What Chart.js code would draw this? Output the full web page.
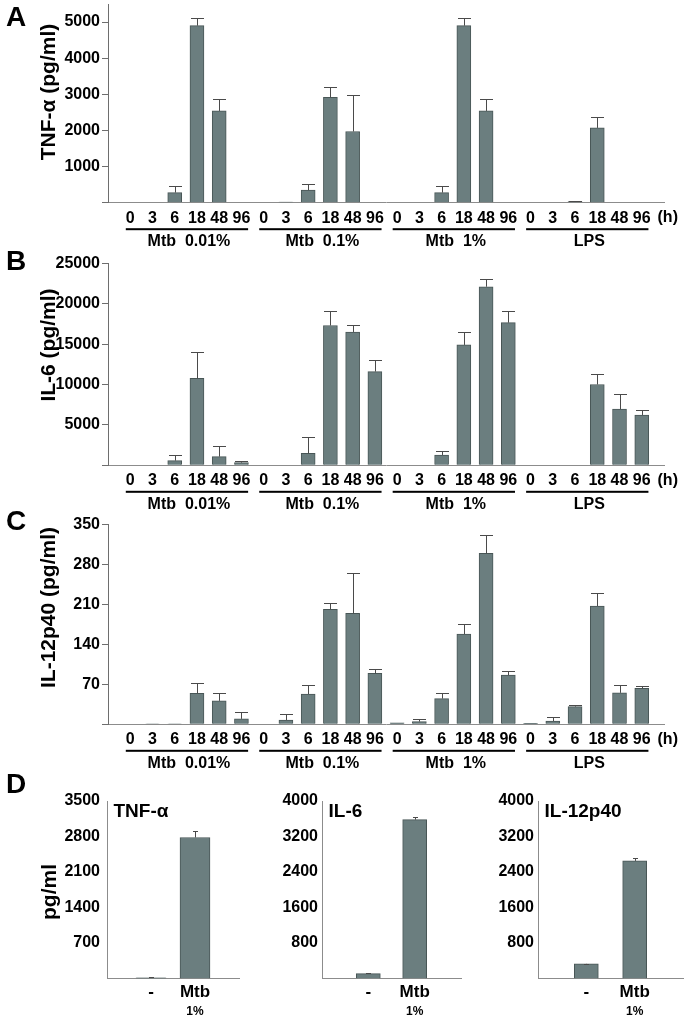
<!DOCTYPE html>
<html>
<head>
<meta charset="utf-8">
<script src="https://cdn.jsdelivr.net/npm/chart.js@4.4.1/dist/chart.umd.min.js"></script>
<style>
  html, body { margin: 0; padding: 0; background: #fff; }
  body { width: 685px; height: 1020px; position: relative; overflow: hidden; }
  canvas { position: absolute; }
</style>
</head>
<body>
<canvas id="chartA" width="685" height="258" style="left:0;top:0"></canvas>
<canvas id="chartB" width="685" height="275" style="left:0;top:245px"></canvas>
<canvas id="chartC" width="685" height="272" style="left:0;top:505px"></canvas>
<canvas id="chartD1" width="240" height="255" style="left:0;top:765px"></canvas>
<canvas id="chartD2" width="225" height="255" style="left:240px;top:765px"></canvas>
<canvas id="chartD3" width="220" height="255" style="left:465px;top:765px"></canvas>
<script>
const HOURS = ['0', '3', '6', '18', '48', '96'];
const GROUPS = ['Mtb  0.01%', 'Mtb  0.1%', 'Mtb  1%', 'LPS'];

// A — TNF-α (pg/ml), six time points per group
const tnfMean = [0, 0, 280, 4900, 2540, 0,   0, 15, 350, 2920, 1970, 0,   0, 0, 280, 4900, 2540, 0,   0, 0, 30, 2070, 0, 0];
const tnfErr  = [0, 0, 170, 210, 320, 0,     0, 0, 160, 280, 1010, 0,     0, 0, 170, 210, 320, 0,     0, 0, 30, 290, 0, 0];

// B — IL-6 (pg/ml)
const il6Mean = [0, 0, 580, 10750, 1070, 330,   0, 0, 1490, 17300, 16500, 11600,   0, 0, 1280, 14900, 22100, 17650,   0, 0, 0, 10000, 6950, 6230];
const il6Err  = [0, 0, 660, 3230, 1320, 170,    0, 0, 1980, 1830, 830, 1450,       0, 0, 450, 1600, 950, 1400,        0, 0, 0, 1300, 1850, 650];

// C — IL-12p40 (pg/ml)
const il12Mean = [0, 0.6, 0.6, 54, 41, 9.5,   0, 7.5, 53, 201, 194, 89,   2.5, 4.7, 45, 158, 299, 86,   1.5, 5.8, 31, 207, 55, 63];
const il12Err  = [0, 0, 0, 18, 13, 11.5,      0, 10, 15, 12, 70, 7,       0, 4, 10, 18, 33, 8,          0, 7.6, 3, 23, 13, 4];

// D — unstimulated vs Mtb 1%
const D_LABELS = ['-', 'Mtb'];
const tnfD  = [15, 2780];
const tnfDErr = [5, 130];
const il6D  = [110, 3580];
const il6DErr = [10, 70];
const il12D = [330, 2650];
const il12DErr = [8, 60];

const BAR_FILL = '#6b7e7f';
const BAR_EDGE = '#485656';
const FONT = '"Liberation Sans", Arial, sans-serif';

Chart.defaults.font.family = FONT;
Chart.defaults.color = '#000';

// one empty slot at each end of the x axis
const timeLabels = ['', ...GROUPS.flatMap(() => HOURS), ''];
const pad = arr => [null, ...arr, null];

function tickValues(max, step) {
  const out = [];
  for (let v = 0; v <= max + 1e-9; v += step) out.push({ value: v });
  return out;
}

// ── plugins ───────────────────────────────────────────────────────────
const errorBars = {
  id: 'errorBars',
  afterDatasetsDraw(chart, args, opts) {
    const { ctx, scales: { y } } = chart;
    const ds = chart.data.datasets[0];
    const meta = chart.getDatasetMeta(0);
    ctx.save();
    ctx.strokeStyle = '#4a4a4a';
    ctx.lineWidth = 1;
    meta.data.forEach((bar, i) => {
      const v = ds.data[i], e = ds.errors[i];
      if (v == null || !e) return;
      const top = Math.round(y.getPixelForValue(v + e)) + 0.5;
      const x = Math.round(bar.x) + 0.5;
      const half = opts.cap === 'bar' ? bar.width / 2 - 0.5 : opts.cap;
      ctx.beginPath();
      ctx.moveTo(x, bar.y);
      ctx.lineTo(x, top);
      ctx.moveTo(x - half, top);
      ctx.lineTo(x + half, top);
      ctx.stroke();
    });
    ctx.restore();
  }
};

const panelText = {
  id: 'panelText',
  afterDraw(chart, args, opts) {
    const { ctx, chartArea } = chart;
    ctx.save();
    ctx.fillStyle = '#000';
    if (opts.letter) {
      ctx.font = 'bold 28px ' + FONT;
      ctx.textAlign = 'center';
      ctx.textBaseline = 'middle';
      ctx.fillText(opts.letter, opts.letterX, opts.letterY);
    }
    if (opts.yTitle) {
      ctx.save();
      ctx.translate(opts.titleX, opts.titleY);
      ctx.rotate(-Math.PI / 2);
      ctx.font = 'bold 21px ' + FONT;
      ctx.textAlign = 'center';
      ctx.textBaseline = 'middle';
      ctx.fillText(opts.yTitle, 0, 0);
      ctx.restore();
    }
    if (opts.groups) {
      const x = chart.scales.x;
      const base = chartArea.bottom;
      const slot = x.getPixelForValue(2) - x.getPixelForValue(1);
      ctx.font = 'bold 16px ' + FONT;
      ctx.textAlign = 'center';
      ctx.textBaseline = 'middle';
      GROUPS.forEach((name, gi) => {
        const first = 1 + gi * 6;
        const x0 = x.getPixelForValue(first) - 0.2 * slot;
        const x1 = x.getPixelForValue(first + 5) + 0.3 * slot;
        ctx.fillRect(x0, base + 25.5, x1 - x0, 2);
        ctx.fillText(name, (x0 + x1) / 2 + 2, base + 39);
      });
      ctx.fillText('(h)', x.getPixelForValue(24) + 26, base + 15);
    }
    if (opts.inner) {
      ctx.font = 'bold 19px ' + FONT;
      ctx.textAlign = 'left';
      ctx.textBaseline = 'middle';
      ctx.fillText(opts.inner, chartArea.left + 6.5, chartArea.top + 11);
      const x = chart.scales.x;
      ctx.font = 'bold 12px ' + FONT;
      ctx.textAlign = 'center';
      ctx.fillText('1%', x.getPixelForValue(2), chartArea.bottom + 33);
    }
    ctx.restore();
  }
};

// ── panels A–C ────────────────────────────────────────────────────────
function makeTimeChart(id, cfg) {
  return new Chart(document.getElementById(id), {
    type: 'bar',
    data: {
      labels: timeLabels,
      datasets: [{
        data: pad(cfg.mean),
        errors: pad(cfg.err),
        backgroundColor: BAR_FILL,
        borderColor: BAR_EDGE,
        borderWidth: 1,
        barThickness: 14
      }]
    },
    options: {
      responsive: false,
      animation: false,
      layout: { padding: { top: cfg.top, right: 21, left: 0, bottom: 0 } },
      plugins: {
        legend: { display: false },
        tooltip: { enabled: false },
        errorBars: { cap: 'bar' },
        panelText: {
          letter: cfg.letter, letterX: 16, letterY: cfg.letterY,
          yTitle: cfg.yTitle, titleX: 49, titleY: cfg.titleY,
          groups: true
        }
      },
      scales: {
        x: {
          offset: false,
          grid: { display: false, drawTicks: false },
          border: { color: '#8c8c8c', width: 1 },
          ticks: { autoSkip: false, maxRotation: 0, minRotation: 0, padding: 6,
                   font: { size: 16, weight: 'bold' }, color: '#000' },
          afterFit(s) { s.height = cfg.height - cfg.bottom; s.paddingLeft = 0; s.paddingRight = 0; }
        },
        y: {
          min: 0,
          max: cfg.max,
          afterBuildTicks(s) { s.ticks = tickValues(cfg.max, cfg.step); },
          ticks: { padding: 2, font: { size: 16, weight: 'bold' }, color: '#000',
                   callback: v => (v === 0 ? '' : String(v)) },
          grid: { drawOnChartArea: false, tickLength: 6, color: '#6e6e6e' },
          border: { color: '#6e6e6e', width: 1 },
          afterFit(s) { s.width = 108; s.paddingTop = 0; s.paddingBottom = 0; }
        }
      }
    },
    plugins: [errorBars, panelText]
  });
}

makeTimeChart('chartA', { mean: tnfMean, err: tnfErr, max: 5500, step: 1000,
  top: 4, bottom: 202.7, height: 258, letter: 'A', letterY: 18, yTitle: 'TNF-α (pg/ml)', titleY: 92 });
makeTimeChart('chartB', { mean: il6Mean, err: il6Err, max: 25000, step: 5000,
  top: 18.3, bottom: 220.3, height: 275, letter: 'B', letterY: 17, yTitle: 'IL-6 (pg/ml)', titleY: 100 });
makeTimeChart('chartC', { mean: il12Mean, err: il12Err, max: 350, step: 70,
  top: 19.3, bottom: 219.3, height: 272, letter: 'C', letterY: 17, yTitle: 'IL-12p40 (pg/ml)', titleY: 102.5 });

// ── panel D ───────────────────────────────────────────────────────────
function makeDChart(id, cfg) {
  return new Chart(document.getElementById(id), {
    type: 'bar',
    data: {
      labels: ['', ...D_LABELS, ''],
      datasets: [{
        data: pad(cfg.mean),
        errors: pad(cfg.err),
        backgroundColor: BAR_FILL,
        borderColor: BAR_EDGE,
        borderWidth: 1,
        barThickness: cfg.barW
      }]
    },
    options: {
      responsive: false,
      animation: false,
      layout: { padding: { top: 36, right: cfg.right, left: 0, bottom: 0 } },
      plugins: {
        legend: { display: false },
        tooltip: { enabled: false },
        errorBars: { cap: 2.5 },
        panelText: {
          letter: cfg.letter, letterX: 16, letterY: 20,
          yTitle: cfg.yTitle, titleX: 50, titleY: 127,
          inner: cfg.inner
        }
      },
      scales: {
        x: {
          offset: false,
          grid: { display: false, drawTicks: false },
          border: { color: '#8c8c8c', width: 1 },
          ticks: { autoSkip: false, maxRotation: 0, minRotation: 0, padding: 4,
                   font: { size: 17, weight: 'bold' }, color: '#000' },
          afterFit(s) { s.height = 255 - 213.5; s.paddingLeft = 0; s.paddingRight = 0; }
        },
        y: {
          min: 0,
          max: cfg.max,
          afterBuildTicks(s) { s.ticks = tickValues(cfg.max, cfg.step); },
          ticks: { padding: cfg.pad, font: { size: 16, weight: 'bold' }, color: '#000',
                   callback: v => (v === 0 ? '' : String(v)) },
          grid: { display: false, drawTicks: false },
          border: { color: '#8c8c8c', width: 1 },
          afterFit(s) { s.width = cfg.axisX; s.paddingTop = 0; s.paddingBottom = 0; }
        }
      }
    },
    plugins: [errorBars, panelText]
  });
}

makeDChart('chartD1', { mean: tnfD, err: tnfDErr, max: 3500, step: 700, axisX: 107, right: 1, pad: 7,
  barW: 30, letter: 'D', yTitle: 'pg/ml', inner: 'TNF-α' });
makeDChart('chartD2', { mean: il6D, err: il6DErr, max: 4000, step: 800, axisX: 82, right: 4, pad: 4,
  barW: 24, inner: 'IL-6' });
makeDChart('chartD3', { mean: il12D, err: il12DErr, max: 4000, step: 800, axisX: 73, right: 2, pad: 4,
  barW: 24, inner: 'IL-12p40' });
</script>
</body>
</html>
